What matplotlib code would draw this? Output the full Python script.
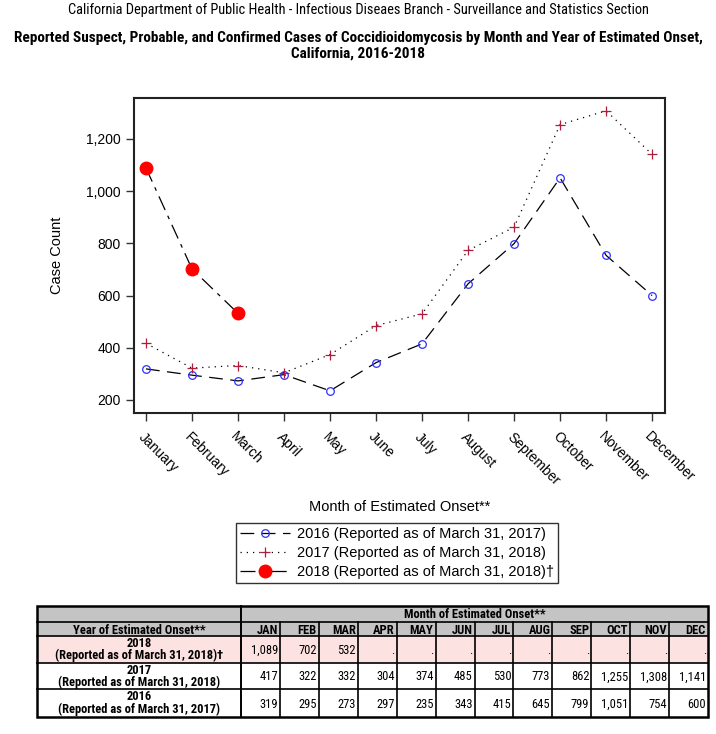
import matplotlib
matplotlib.use("Agg")
import matplotlib.pyplot as plt
from matplotlib import font_manager as fm
from matplotlib.patches import Rectangle
from matplotlib.ticker import FuncFormatter, FixedLocator

plt.rcParams['font.family'] = ['Liberation Sans', 'DejaVu Sans']


def pick_narrow_font():
    """太字のある細身フォントを探す"""
    cands = {}
    for f in fm.fontManager.ttflist:
        narrow = ('Narrow' in f.name or 'Condensed' in f.name
                  or f.stretch in ('condensed', 'semi-condensed', 'extra-condensed'))
        if not narrow:
            continue
        w = f.weight if isinstance(f.weight, int) else (700 if 'bold' in str(f.weight) else 400)
        cands.setdefault((f.name, f.stretch), set()).add(w)
    prefer = ['Liberation Sans Narrow', 'Arial Narrow', 'Roboto Condensed', 'DejaVu Sans',
              'Noto Sans', 'Open Sans', 'Inter', 'Lato']
    for p in prefer:
        for (name, stretch), ws in cands.items():
            if name == p and any(w >= 600 for w in ws) and any(w <= 500 for w in ws):
                return name, stretch
    for (name, stretch), ws in cands.items():
        if any(w >= 600 for w in ws):
            return name, stretch
    return None, 'normal'


NARROW_NAME, NARROW_STRETCH = pick_narrow_font()
HAS_NARROW = NARROW_NAME is not None
NARROW = dict(family=([NARROW_NAME] if HAS_NARROW else []) + ['Liberation Sans', 'DejaVu Sans'],
              stretch=NARROW_STRETCH)
SHRINK = 1.0 if HAS_NARROW else 0.8

# データ
months = ["January", "February", "March", "April", "May", "June", "July",
          "August", "September", "October", "November", "December"]
month_abbr = ["JAN", "FEB", "MAR", "APR", "MAY", "JUN", "JUL", "AUG",
              "SEP", "OCT", "NOV", "DEC"]
cases_2016 = [319, 295, 273, 297, 235, 343, 415, 645, 799, 1051, 754, 600]
cases_2017 = [417, 322, 332, 304, 374, 485, 530, 773, 862, 1255, 1308, 1141]
cases_2018 = [1089, 702, 532]
label_2016 = "2016 (Reported as of March 31, 2017)"
label_2017 = "2017 (Reported as of March 31, 2018)"
label_2018 = "2018 (Reported as of March 31, 2018)\u2020"
table_rows = [
    ("2018", "(Reported as of March 31, 2018)\u2020", cases_2018),
    ("2017", "(Reported as of March 31, 2018)", cases_2017),
    ("2016", "(Reported as of March 31, 2017)", cases_2016),
]

W, H = 716, 734
fig = plt.figure(figsize=(W / 100, H / 100), dpi=100)

# タイトル
fig.text(358 / W, 1 - 10 / H, "California Department of Public Health - Infectious Diseaes Branch - Surveillance and Statistics Section",
         ha='center', va='center', fontsize=10.4 * SHRINK, **NARROW)
fig.text(358 / W, 1 - 46 / H,
         "Reported Suspect, Probable, and Confirmed Cases of Coccidioidomycosis by Month and Year of Estimated Onset,\nCalifornia, 2016-2018",
         ha='center', va='center', fontsize=11 * SHRINK, fontweight='bold', linespacing=1.15, **NARROW)

# グラフ本体
ax = fig.add_axes([134 / W, 1 - 413 / H, 531 / W, 315 / H])
x = list(range(len(months)))
l16, = ax.plot(x, cases_2016, color='black', lw=0.9, dashes=(11, 6),
               marker='o', ms=5.5, mfc='none', mec='#3030ff', mew=0.9, label=label_2016)
l17, = ax.plot(x, cases_2017, color='black', lw=0.9, dashes=(1, 4),
               marker='+', ms=6.5, mec='#b01c3c', mew=0.9, label=label_2017)
l18, = ax.plot(x[:len(cases_2018)], cases_2018, color='black', lw=0.9, dashes=(12, 5, 3, 5),
               marker='o', ms=9, mfc='#ff0000', mec='#ff0000', label=label_2018)

ax.set_xlim(-0.26, 11.28)
ax.set_ylim(150, 1357)
ax.yaxis.set_major_locator(FixedLocator([200, 400, 600, 800, 1000, 1200]))
ax.yaxis.set_major_formatter(FuncFormatter(lambda v, p: f"{int(v):,}"))
ax.set_xticks(x)
ax.set_xticklabels(months, rotation=-45, ha='left', va='top', rotation_mode='anchor')
ax.tick_params(axis='both', direction='out', length=6, width=1, labelsize=10, color='#333333')
ax.tick_params(axis='x', pad=6)
for s in ax.spines.values():
    s.set_linewidth(1.5)
    s.set_color('#222222')
ax.set_ylabel("Case Count", fontsize=10.5, labelpad=16)
ax.set_xlabel("Month of Estimated Onset**", fontsize=10.5, labelpad=9)

leg = fig.legend(handles=[l16, l17, l18], loc='center', bbox_to_anchor=(397 / W, 1 - 553 / H),
                 frameon=True, fancybox=False, fontsize=10.5, handlelength=3.4,
                 borderpad=0.3, labelspacing=0.32, handletextpad=0.5, borderaxespad=0)
leg.get_frame().set_edgecolor('black')
leg.get_frame().set_linewidth(1.0)

# 表
tax = fig.add_axes([0, 0, 1, 1])
tax.set_xlim(0, W)
tax.set_ylim(H, 0)
tax.axis('off')

x0, x1, x_end = 37, 241, 708
col_w = (x_end - x1) / 12
ys = [606, 622, 636, 663, 689, 717]
gray = '#c4c4c4'
pink = '#fde2e2'
tfs = 9 if HAS_NARROW else 7.6

tax.add_patch(Rectangle((x0, ys[0]), x_end - x0, ys[2] - ys[0], fc=gray, ec='none'))
tax.add_patch(Rectangle((x0, ys[2]), x_end - x0, ys[3] - ys[2], fc=pink, ec='none'))

tax.text((x1 + x_end) / 2, (ys[0] + ys[1]) / 2 + 1, "Month of Estimated Onset**", ha='center', va='center',
         fontsize=tfs, fontweight='bold', **NARROW)
tax.text((x0 + x1) / 2, (ys[1] + ys[2]) / 2 + 1, "Year of Estimated Onset**", ha='center', va='center',
         fontsize=tfs, fontweight='bold', **NARROW)
for i, m in enumerate(month_abbr):
    tax.text(x1 + (i + 1) * col_w - 2, (ys[1] + ys[2]) / 2 + 1, m, ha='right', va='center',
             fontsize=tfs, fontweight='bold', **NARROW)

for r, (yr, note, vals) in enumerate(table_rows):
    yt, yb = ys[2 + r], ys[3 + r]
    yc = (yt + yb) / 2
    tax.text((x0 + x1) / 2, yc - 6, yr, ha='center', va='center', fontsize=tfs, fontweight='bold', **NARROW)
    tax.text((x0 + x1) / 2, yc + 6, note, ha='center', va='center', fontsize=tfs, fontweight='bold', **NARROW)
    for i in range(12):
        s = f"{vals[i]:,}" if i < len(vals) else "."
        tax.text(x1 + (i + 1) * col_w - 2, yc + 1, s, ha='right', va='center', fontsize=tfs, **NARROW)

# 罫線
for y in ys[1:-1]:
    tax.plot([x0, x_end], [y, y], color='black', lw=1.2)
tax.plot([x1, x1], [ys[0], ys[-1]], color='black', lw=1.4)
for i in range(1, 12):
    xv = x1 + i * col_w
    tax.plot([xv, xv], [ys[1], ys[-1]], color='black', lw=1.2)
tax.add_patch(Rectangle((x0, ys[0]), x_end - x0, ys[-1] - ys[0], fc='none', ec='black', lw=1.8))

fig.savefig("out.png", dpi=100)
